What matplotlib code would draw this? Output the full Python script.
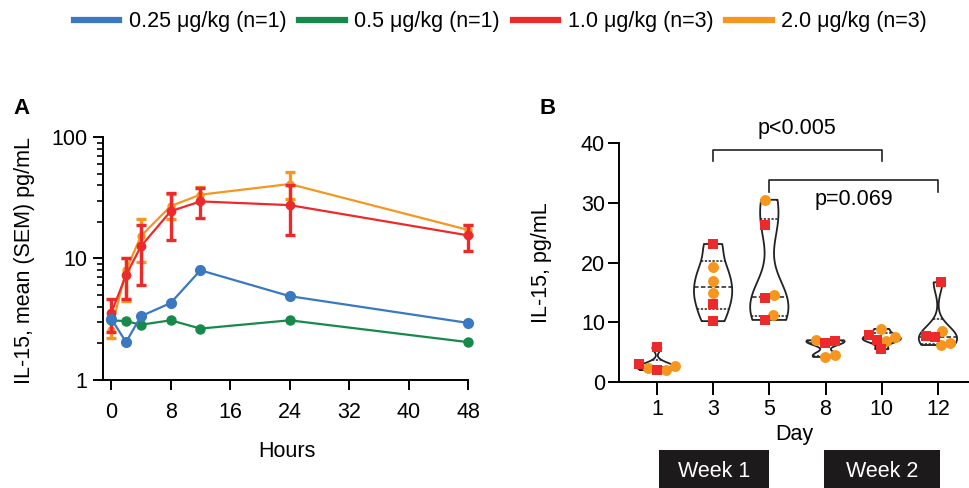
import numpy as np
import matplotlib
matplotlib.use("Agg")
import matplotlib.pyplot as plt
from matplotlib import cbook, mlab
from matplotlib.lines import Line2D
from matplotlib.patches import Rectangle
from matplotlib.transforms import blended_transform_factory
from matplotlib.ticker import FixedLocator, NullFormatter

plt.rcParams['font.family'] = ['Liberation Sans', 'DejaVu Sans']
plt.rcParams['font.size'] = 15.5

# warna tiap dosis
c_025 = '#3b78c2'
c_05 = '#17894a'
c_10 = '#ec2a2c'
c_20 = '#f7961f'

# panel A: rata-rata IL-15 per jam
hours = [0, 2, 4, 8, 12, 24, 48]
a_025 = [3.2, 2.05, 3.35, 4.3, 8.0, 4.9, 2.95]
a_05 = [3.1, 3.05, 2.85, 3.1, 2.65, 3.1, 2.05]
a_10 = [3.55, 7.3, 12.6, 24.5, 29.5, 27.5, 15.5]
a_10_lo = [2.5, 4.6, 6.1, 14.2, 21.5, 15.5, 11.5]
a_10_hi = [4.6, 10.0, 19.0, 34.5, 38.0, 40.0, 19.0]
a_20 = [2.6, 8.0, 15.3, 27.0, 33.5, 41.0, 17.2]
a_20_lo = [2.2, 4.5, 9.4, 21.0, 29.0, 31.0, 15.5]
a_20_hi = [3.1, 10.1, 21.0, 34.0, 38.5, 51.5, 19.0]

labels = ['0.25 \u03bcg/kg (n=1)', '0.5 \u03bcg/kg (n=1)',
          '1.0 \u03bcg/kg (n=3)', '2.0 \u03bcg/kg (n=3)']

# panel B: nilai per hari (merah = 1.0, oranye = 2.0)
days = ['1', '3', '5', '8', '10', '12']
b_red = [[5.8, 3.0, 2.0], [23.1, 13.0, 10.2], [26.3, 14.0, 10.4],
         [6.5, 6.9], [7.9, 7.0, 5.5], [16.7, 7.7, 7.5]]
b_orange = [[2.7, 2.0, 2.4], [19.2, 16.9, 14.9], [30.5, 14.6, 11.2],
            [7.0, 4.2, 4.6], [8.9, 7.5, 6.9], [8.6, 6.2, 6.5]]

fig = plt.figure(figsize=(9.7, 4.88), dpi=100)

# ---------------- panel A ----------------
ax = fig.add_axes([0.1062, 0.2213, 0.3763, 0.498])
ax.errorbar(hours, a_20, yerr=[np.subtract(a_20, a_20_lo), np.subtract(a_20_hi, a_20)],
            color=c_20, lw=1.6, marker='o', ms=5, elinewidth=2.4, capsize=3.8,
            capthick=2.4, zorder=2, clip_on=False)
ax.errorbar(hours, a_10, yerr=[np.subtract(a_10, a_10_lo), np.subtract(a_10_hi, a_10)],
            color=c_10, lw=1.6, marker='o', ms=6, elinewidth=2.4, capsize=3.8,
            capthick=2.4, zorder=3, clip_on=False)
ax.plot(hours, a_05, color=c_05, lw=1.6, marker='o', ms=6.5, zorder=4, clip_on=False)
ax.plot(hours, a_025, color=c_025, lw=1.6, marker='o', ms=7, zorder=5, clip_on=False)

ax.set_yscale('log')
ax.set_ylim(1, 100)
ax.set_xlim(-1.1, 48)
ax.set_xticks(range(0, 49, 8))
ax.yaxis.set_major_locator(FixedLocator([1, 10, 100]))
ax.set_yticklabels(['1', '10', '100'])
ax.yaxis.set_minor_locator(FixedLocator([k * 10 ** e for e in range(2) for k in range(2, 10)]))
ax.yaxis.set_minor_formatter(NullFormatter())
for s in ['top', 'right']:
    ax.spines[s].set_visible(False)
for s in ['left', 'bottom']:
    ax.spines[s].set_linewidth(1.4)
ax.tick_params(axis='x', length=7, width=1.4, pad=9)
ax.tick_params(axis='y', which='major', length=7, width=1.4, pad=4)
ax.tick_params(axis='y', which='minor', length=4, width=1.2)
ax.set_xlabel('Hours')
ax.xaxis.set_label_coords(0.504, -0.25)
ax.set_ylabel('IL-15, mean (SEM) pg/mL')
ax.yaxis.set_label_coords(-0.185, 0.49)

# ---------------- panel B ----------------
bx = fig.add_axes([0.638, 0.217, 0.362, 0.490])
pos = np.arange(len(days))
groups = [r + o for r, o in zip(b_red, b_orange)]


def kde(X, coords):
    return mlab.GaussianKDE(X, 0.45).evaluate(coords)


vstats = cbook.violin_stats(groups, kde, points=200)
vw = 0.68
parts = bx.violin(vstats, positions=pos, widths=vw, showextrema=False)
for body in parts['bodies']:
    body.set_facecolor('none')
    body.set_edgecolor('#222222')
    body.set_linewidth(1.3)
    body.set_alpha(1)

# garis median & kuartil
for p, st, g in zip(pos, vstats, groups):
    q1, q2, q3 = np.percentile(g, [25, 50, 75], method='weibull')
    scale = vw / 2 / st['vals'].max()
    for q, ls in [(q1, (0, (1.5, 1))), (q2, (0, (3, 1.5))), (q3, (0, (1.5, 1)))]:
        hw = np.interp(q, st['coords'], st['vals']) * scale
        bx.plot([p - hw, p + hw], [q, q], color='#222222', lw=1.1, ls=ls, zorder=2)


def swarm(vals, xpx=56.2, ypx=5.97, size=9.5):
    # beeswarm sederhana: taruh titik sedekat mungkin ke tengah
    order = np.argsort(vals, kind='stable')
    placed = []
    offs = np.zeros(len(vals))
    for i in order:
        y = vals[i] * ypx
        cands = [0.0]
        for px, py in placed:
            dy = abs(y - py)
            if dy < size:
                dx = np.sqrt(size ** 2 - dy ** 2)
                cands += [px + dx, px - dx]
        cands.sort(key=lambda c: (abs(c), -c))
        for x in cands:
            if all(np.hypot(x - px, y - py) >= size - 1e-6 for px, py in placed):
                break
        placed.append((x, y))
        offs[i] = x / xpx
    return offs - (offs.max() + offs.min()) / 2  # geser ke tengah


for p, r, o in zip(pos, b_red, b_orange):
    g = np.array(r + o)
    offs = swarm(g)
    n = len(r)
    bx.scatter(p + offs[n:], o, s=62, marker='o', color=c_20, zorder=3, lw=0, clip_on=False)
    bx.scatter(p + offs[:n], r, s=62, marker='s', color=c_10, zorder=4, lw=0, clip_on=False)

bx.set_xlim(-0.676, 5.57)
bx.set_ylim(0, 40)
bx.set_xticks(pos)
bx.set_xticklabels(days)
bx.set_yticks(range(0, 41, 10))
for s in ['top', 'right']:
    bx.spines[s].set_visible(False)
for s in ['left', 'bottom']:
    bx.spines[s].set_linewidth(1.4)
bx.tick_params(axis='x', length=9, width=1.4, pad=3)
bx.tick_params(axis='y', length=8, width=1.4, pad=2)
bx.set_xlabel('Day')
bx.xaxis.set_label_coords(0.5, -0.175)
bx.set_ylabel('IL-15, pg/mL')
bx.yaxis.set_label_coords(-0.19, 0.5)

# kurung signifikansi
bx.plot([1, 1, 4, 4], [37.0, 38.9, 38.9, 37.0], color='#222222', lw=1.2, clip_on=False)
bx.text(2.5, 42.4, 'p<0.005', ha='center', va='center')
bx.plot([2, 2, 5, 5], [31.8, 33.8, 33.8, 31.8], color='#222222', lw=1.2, clip_on=False)
bx.text(3.5, 30.6, 'p=0.069', ha='center', va='center')

# kotak minggu
tr = blended_transform_factory(bx.transData, fig.transFigure)
for x0, x1, name in [(0.035, 1.99, 'Week 1'), (2.97, 5.04, 'Week 2')]:
    bx.add_patch(Rectangle((x0, -0.05), x1 - x0, 0.128, transform=tr,
                           color='#1c1a1a', clip_on=False, lw=0))
    bx.text((x0 + x1) / 2, 0.033, name, transform=tr, ha='center', va='center',
            color='white', clip_on=False)

# label panel
fig.text(0.014, 0.778, 'A', fontsize=16, fontweight='bold', va='center')
fig.text(0.556, 0.778, 'B', fontsize=16, fontweight='bold', va='center')

# legenda
handles = [Line2D([], [], color=c, lw=4.5) for c in [c_025, c_05, c_10, c_20]]
fig.legend(handles, labels, loc='center', bbox_to_anchor=(0.516, 0.955), ncol=4,
           frameon=False, handlelength=2.1, handletextpad=0.45, columnspacing=0.6,
           borderpad=0, borderaxespad=0)

fig.savefig('out.png', dpi=100)
